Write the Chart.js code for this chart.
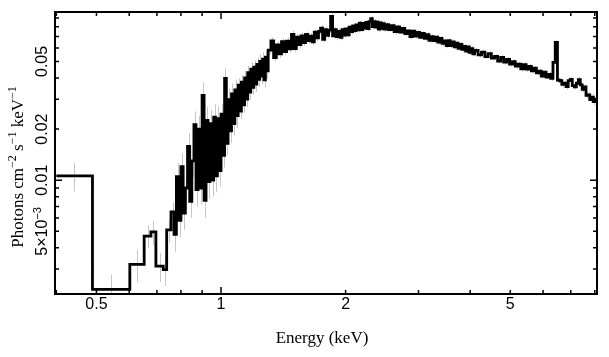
<!DOCTYPE html>
<html>
<head>
<meta charset="utf-8">
<script src="https://cdn.jsdelivr.net/npm/chart.js@4.4.0/dist/chart.umd.min.js"></script>
<style>
  html, body { margin: 0; padding: 0; background: #fff; }
  #wrap { position: relative; width: 609px; height: 357px; }
</style>
</head>
<body>
<div id="wrap"><canvas id="spec"></canvas></div>
<script>
// Unfolded spectrum, photons cm^-2 s^-1 keV^-1, binned (lower bin edges in keV)

// wide bins at the low-energy end
const edgesLow = [0.400, 0.489, 0.602, 0.652, 0.677, 0.696, 0.725, 0.739, 0.757];
const fluxLow = [0.0106, 0.00228, 0.0032, 0.00469, 0.00497, 0.00312, 0.00298, 0.0051, 0.0065];
const errLow = [0.0020, 0.0005, 0.0007, 0.0007, 0.0008, 0.0006, 0.0006, 0.0008, 0.0009];

// 10 eV bins
const edges10 = [0.77, 0.78, 0.79, 0.80, 0.81, 0.82, 0.83, 0.84, 0.85, 0.86,
  0.87, 0.88, 0.89, 0.90, 0.91, 0.92, 0.93, 0.94, 0.95, 0.96,
  0.97, 0.98, 0.99, 1.00, 1.01, 1.02, 1.03, 1.04, 1.05, 1.06,
  1.07, 1.08, 1.09, 1.10, 1.11, 1.12, 1.13, 1.14, 1.15, 1.16,
  1.17, 1.18, 1.19, 1.20, 1.21, 1.22, 1.23, 1.24, 1.25, 1.26,
  1.27, 1.28, 1.29];
const flux10 = [0.0048, 0.0105, 0.0058, 0.0120, 0.0064, 0.0090, 0.0158, 0.0075, 0.0130, 0.0212,
  0.0088, 0.0200, 0.0090, 0.0316, 0.0076, 0.0225, 0.0098, 0.0215, 0.0100, 0.0235,
  0.0106, 0.0230, 0.0114, 0.0245, 0.0140, 0.0398, 0.0165, 0.0298, 0.0195, 0.0322,
  0.0215, 0.0340, 0.0240, 0.0362, 0.0255, 0.0378, 0.0278, 0.0400, 0.0300, 0.0430,
  0.0330, 0.0450, 0.0352, 0.0462, 0.0368, 0.0480, 0.0392, 0.0500, 0.0410, 0.0515,
  0.0390, 0.0530, 0.0440];
const err10 = [0.0010, 0.0021, 0.0012, 0.0024, 0.0013, 0.0018, 0.0032, 0.0015, 0.0026, 0.0042,
  0.0018, 0.0040, 0.0018, 0.0060, 0.0016, 0.0045, 0.0020, 0.0043, 0.0020, 0.0045,
  0.0021, 0.0042, 0.0022, 0.0037, 0.0021, 0.0058, 0.0025, 0.0045, 0.0029, 0.0048,
  0.0032, 0.0051, 0.0036, 0.0036, 0.0026, 0.0038, 0.0028, 0.0040, 0.0030, 0.0043,
  0.0033, 0.0045, 0.0035, 0.0046, 0.0037, 0.0048, 0.0039, 0.0050, 0.0041, 0.0052,
  0.0039, 0.0053, 0.0044];

// 20 eV bins
const edges20 = [1.30, 1.32, 1.34, 1.36, 1.38, 1.40, 1.42, 1.44, 1.46, 1.48,
  1.50, 1.52, 1.54, 1.56, 1.58, 1.60, 1.62, 1.64, 1.66, 1.68,
  1.70, 1.72, 1.74, 1.76, 1.78, 1.80, 1.82, 1.84, 1.86, 1.88,
  1.90, 1.92, 1.94, 1.96, 1.98, 2.00, 2.02, 2.04, 2.06, 2.08,
  2.10, 2.12, 2.14, 2.16, 2.18, 2.20, 2.22, 2.24, 2.26, 2.28,
  2.30, 2.32, 2.34, 2.36, 2.38, 2.40, 2.42, 2.44, 2.46, 2.48];
const flux20 = [0.0583, 0.0660, 0.0526, 0.0626, 0.0554, 0.0653, 0.0571, 0.0659, 0.0592, 0.0722,
  0.0595, 0.0695, 0.0628, 0.0707, 0.0646, 0.0721, 0.0663, 0.0705, 0.0652, 0.0743,
  0.0688, 0.0751, 0.0785, 0.0675, 0.0768, 0.0712, 0.0764, 0.0922, 0.0707, 0.0768,
  0.0700, 0.0752, 0.0694, 0.0770, 0.0715, 0.0778, 0.0718, 0.0795, 0.0749, 0.0810,
  0.0760, 0.0820, 0.0768, 0.0840, 0.0770, 0.0838, 0.0786, 0.0849, 0.0780, 0.0858,
  0.0893, 0.0801, 0.0857, 0.0796, 0.0851, 0.0776, 0.0842, 0.0782, 0.0834, 0.0774];
const err20 = [0.0030, 0.0033, 0.0027, 0.0031, 0.0028, 0.0032, 0.0028, 0.0032, 0.0029, 0.0036,
  0.0030, 0.0034, 0.0031, 0.0034, 0.0031, 0.0029, 0.0027, 0.0029, 0.0027, 0.0030,
  0.0028, 0.0030, 0.0031, 0.0027, 0.0031, 0.0028, 0.0030, 0.0037, 0.0028, 0.0031,
  0.0028, 0.0030, 0.0028, 0.0030, 0.0029, 0.0027, 0.0026, 0.0028, 0.0027, 0.0028,
  0.0027, 0.0029, 0.0027, 0.0029, 0.0027, 0.0029, 0.0028, 0.0030, 0.0028, 0.0030,
  0.0031, 0.0028, 0.0030, 0.0028, 0.0030, 0.0028, 0.0029, 0.0027, 0.0029, 0.0027];

// 40 eV bins
const edges40 = [2.50, 2.54, 2.58, 2.62, 2.66, 2.70, 2.74, 2.78, 2.82, 2.86,
  2.90, 2.94, 2.98, 3.02, 3.06, 3.10, 3.14, 3.18, 3.22, 3.26,
  3.30, 3.34, 3.38, 3.42, 3.46, 3.50, 3.54, 3.58, 3.62, 3.66,
  3.70, 3.74, 3.78, 3.82, 3.86, 3.90, 3.94, 3.98, 4.02, 4.06];
const flux40 = [0.0824, 0.0770, 0.0812, 0.0748, 0.0799, 0.0745, 0.0783, 0.0729, 0.0755, 0.0700,
  0.0753, 0.0704, 0.0742, 0.0694, 0.0731, 0.0683, 0.0720, 0.0665, 0.0700, 0.0662,
  0.0696, 0.0650, 0.0684, 0.0638, 0.0660, 0.0620, 0.0662, 0.0619, 0.0652, 0.0609,
  0.0641, 0.0598, 0.0630, 0.0589, 0.0612, 0.0575, 0.0608, 0.0566, 0.0595, 0.0555];
const err40 = [0.0026, 0.0025, 0.0026, 0.0025, 0.0024, 0.0025, 0.0025, 0.0024, 0.0025, 0.0024,
  0.0024, 0.0023, 0.0024, 0.0023, 0.0023, 0.0024, 0.0023, 0.0024, 0.0022, 0.0023,
  0.0023, 0.0022, 0.0022, 0.0023, 0.0022, 0.0022, 0.0021, 0.0022, 0.0021, 0.0021,
  0.0021, 0.0020, 0.0021, 0.0020, 0.0021, 0.0020, 0.0020, 0.0019, 0.0020, 0.0019];

// 80 eV bins
const edges80 = [4.10, 4.18, 4.26, 4.34, 4.42, 4.50, 4.58, 4.66, 4.74, 4.82,
  4.90, 4.98, 5.06, 5.14, 5.22, 5.30, 5.38, 5.46, 5.54, 5.62,
  5.70, 5.78, 5.86, 5.94, 6.02, 6.10, 6.18, 6.26, 6.34, 6.42,
  6.50, 6.58, 6.66, 6.74, 6.82, 6.90, 6.98, 7.06, 7.14, 7.22,
  7.30, 7.38, 7.46, 7.54, 7.62, 7.70, 7.78, 7.86, 7.94, 8.02];
const flux80 = [0.0580, 0.0546, 0.0568, 0.0534, 0.0556, 0.0523, 0.0535, 0.0503, 0.0528, 0.0495,
  0.0514, 0.0482, 0.0499, 0.0470, 0.0482, 0.0452, 0.0479, 0.0450, 0.0468, 0.0440,
  0.0456, 0.0428, 0.0438, 0.0410, 0.0432, 0.0405, 0.0420, 0.0398, 0.0494, 0.0648,
  0.0388, 0.0385, 0.0366, 0.0372, 0.0356, 0.0386, 0.0392, 0.0360, 0.0354, 0.0372,
  0.0390, 0.0364, 0.0342, 0.0354, 0.0316, 0.0318, 0.0298, 0.0308, 0.0290, 0.0300];
const err80 = [0.0019, 0.0018, 0.0018, 0.0018, 0.0018, 0.0017, 0.0017, 0.0017, 0.0017, 0.0016,
  0.0017, 0.0016, 0.0016, 0.0016, 0.0015, 0.0016, 0.0015, 0.0016, 0.0015, 0.0015,
  0.0015, 0.0015, 0.0014, 0.0015, 0.0014, 0.0014, 0.0014, 0.0014, 0.0016, 0.0019,
  0.0014, 0.0014, 0.0014, 0.0013, 0.0014, 0.0014, 0.0014, 0.0014, 0.0013, 0.0014,
  0.0014, 0.0014, 0.0013, 0.0013, 0.0013, 0.0013, 0.0013, 0.0013, 0.0013, 0.0013];
const lastEdge = 8.10;

// axis ranges and ticks
const xRange = [0.397, 8.1];
const yRange = [0.00214, 0.0977];
const xTicks = [0.4, 0.5, 0.6, 0.7, 0.8, 0.9, 1, 2, 3, 4, 5, 6, 7, 8];
const xMajor = [1];
const xLabels = [0.5, 1, 2, 5];
const yTicks = [0.003, 0.004, 0.005, 0.006, 0.007, 0.008, 0.009, 0.01,
  0.02, 0.03, 0.04, 0.05, 0.06, 0.07, 0.08, 0.09];
const yMajor = [0.01];
const yLabels = [0.005, 0.01, 0.02, 0.05];

const edges = [...edgesLow, ...edges10, ...edges20, ...edges40, ...edges80, lastEdge];
const flux = [...fluxLow, ...flux10, ...flux20, ...flux40, ...flux80];
const err = [...errLow, ...err10, ...err20, ...err40, ...err80];

// histogram steps: each bin starts at its lower edge, last point closes the final bin
const steps = flux.map((v, i) => ({ x: edges[i], y: v }));
steps.push({ x: lastEdge, y: flux[flux.length - 1] });

const SANS = '"Liberation Sans", Arial, Helvetica, sans-serif';
const SERIF = '"Liberation Serif", "Times New Roman", Times, serif';

function richWidth(ctx, parts) {
  let w = 0;
  for (const p of parts) { ctx.font = p.font; w += ctx.measureText(p.t).width; }
  return w;
}
function drawRich(ctx, parts, cx, base) {
  let x = cx - richWidth(ctx, parts) / 2;
  for (const p of parts) {
    ctx.font = p.font;
    ctx.fillText(p.t, x, base - (p.rise || 0));
    x += ctx.measureText(p.t).width;
  }
}
function yLabelParts(v) {
  if (v === 0.005) {
    return [{ t: '5\u00d710', font: '16px ' + SANS }, { t: '\u22123', font: '11px ' + SANS, rise: 6 }];
  }
  return [{ t: String(v), font: '16px ' + SANS }];
}

// grey error bars behind the histogram
const errorBars = {
  id: 'errorBars',
  beforeDatasetsDraw(chart) {
    const { ctx, chartArea: a, scales: { x, y } } = chart;
    ctx.save();
    ctx.beginPath();
    ctx.rect(a.left, a.top, a.right - a.left, a.bottom - a.top);
    ctx.clip();
    ctx.strokeStyle = '#c6c6c6';
    ctx.lineWidth = 1;
    ctx.beginPath();
    for (let i = 0; i < flux.length; i++) {
      const px = Math.round(x.getPixelForValue(Math.sqrt(edges[i] * edges[i + 1]))) + 0.5;
      ctx.moveTo(px, y.getPixelForValue(flux[i] + err[i]));
      ctx.lineTo(px, y.getPixelForValue(Math.max(flux[i] - err[i], 1e-4)));
    }
    ctx.stroke();
    ctx.restore();
  }
};

// box frame, inward ticks on all four sides, labels and titles
const frameAxes = {
  id: 'frameAxes',
  afterDraw(chart) {
    const { ctx, chartArea: a, scales: { x, y } } = chart;
    ctx.save();
    ctx.strokeStyle = '#000';
    ctx.fillStyle = '#000';

    ctx.lineWidth = 1.5;
    ctx.beginPath();
    for (const v of xTicks) {
      const px = x.getPixelForValue(v);
      const len = xMajor.includes(v) ? 7 : 4;
      ctx.moveTo(px, a.bottom); ctx.lineTo(px, a.bottom - len);
      ctx.moveTo(px, a.top); ctx.lineTo(px, a.top + len);
    }
    for (const v of yTicks) {
      const py = y.getPixelForValue(v);
      const len = yMajor.includes(v) ? 7 : 4;
      ctx.moveTo(a.left, py); ctx.lineTo(a.left + len, py);
      ctx.moveTo(a.right, py); ctx.lineTo(a.right - len, py);
    }
    ctx.stroke();

    ctx.lineWidth = 2;
    ctx.strokeRect(a.left, a.top, a.right - a.left, a.bottom - a.top);

    ctx.textBaseline = 'alphabetic';
    ctx.textAlign = 'left';
    for (const v of xLabels) {
      drawRich(ctx, [{ t: String(v), font: '16px ' + SANS }], x.getPixelForValue(v), a.bottom + 15);
    }
    for (const v of yLabels) {
      ctx.save();
      ctx.translate(a.left - 8, y.getPixelForValue(v));
      ctx.rotate(-Math.PI / 2);
      drawRich(ctx, yLabelParts(v), 0, 0);
      ctx.restore();
    }

    drawRich(ctx, [{ t: 'Energy (keV)', font: '17px ' + SERIF }], (a.left + a.right) / 2 - 4, a.bottom + 49);

    ctx.save();
    ctx.translate(23, 167);
    ctx.rotate(-Math.PI / 2);
    drawRich(ctx, [
      { t: 'Photons cm', font: '17px ' + SERIF },
      { t: '\u22122', font: '12px ' + SERIF, rise: 7 },
      { t: ' s', font: '17px ' + SERIF },
      { t: '\u22121', font: '12px ' + SERIF, rise: 7 },
      { t: ' keV', font: '17px ' + SERIF },
      { t: '\u22121', font: '12px ' + SERIF, rise: 7 }
    ], 0, 0);
    ctx.restore();

    ctx.restore();
  }
};

new Chart(document.getElementById('spec'), {
  type: 'line',
  data: {
    datasets: [{
      data: steps,
      stepped: 'before',
      borderColor: '#000',
      borderWidth: 2.8,
      borderJoinStyle: 'miter',
      pointRadius: 0,
      fill: false
    }]
  },
  options: {
    responsive: true,
    maintainAspectRatio: false,
    animation: false,
    layout: { padding: { left: 55, right: 12, top: 12, bottom: 63 } },
    plugins: {
      legend: { display: false },
      tooltip: { enabled: false }
    },
    scales: {
      x: { type: 'logarithmic', min: xRange[0], max: xRange[1], display: false },
      y: { type: 'logarithmic', min: yRange[0], max: yRange[1], display: false }
    }
  },
  plugins: [errorBars, frameAxes]
});
</script>
</body>
</html>
